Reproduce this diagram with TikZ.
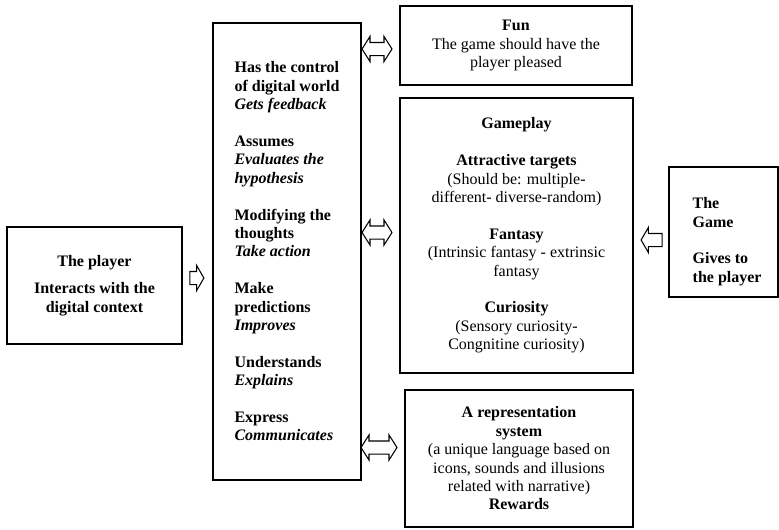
\documentclass[tikz,border=0pt]{standalone}
\usepackage{fontspec}
\setmainfont{Liberation Serif}
\usepackage{tikz}
\usetikzlibrary{shapes.arrows}

\begin{document}
\begin{tikzpicture}[x=0.75pt, y=-0.75pt,
        box/.style={draw, line width=1pt, align=center, inner sep=3pt, font=\fontsize{12pt}{13.8pt}\selectfont},
        rarrow/.style={draw, single arrow, line width=0.8pt, inner sep=0pt, inner ysep=4.5pt, minimum width=18pt, single arrow head extend=4.5pt, single arrow tip angle=120},
        darrow/.style={draw, double arrow, line width=0.8pt, inner sep=0pt, inner ysep=4.5pt, minimum width=18pt, double arrow head extend=4.5pt, double arrow tip angle=115}]
        \useasboundingbox (0,0) rectangle (779,529);
        % boxes
        \node[box, minimum width=131.25pt, minimum height=87.75pt] (player) at (94.5,285.5) {\textbf{The player}\\[7pt]\textbf{Interacts with the}\\\textbf{digital context}};
        \node[box, align=left, minimum width=111pt, minimum height=342.75pt, font=\bfseries\fontsize{12pt}{13.8pt}\selectfont] (mind) at (287,251.5) {Has the control\\of digital world\\\textit{Gets feedback}\\[13.8pt]Assumes\\\textit{Evaluates the}\\\textit{hypothesis}\\[13.8pt]Modifying the\\thoughts\\\textit{Take action}\\[13.8pt]Make\\predictions\\\textit{Improves}\\[13.8pt]Understands\\\textit{Explains}\\[13.8pt]Express\\\textit{Communicates}};
        \node[box, minimum width=174pt, minimum height=59.25pt] (fun) at (516,45.5) {\textbf{Fun}\\The game should have the\\player pleased};
        \node[box, minimum width=174.75pt, minimum height=206.25pt] (gameplay) at (516.5,235.5) {\textbf{Gameplay}\\[13.8pt]\textbf{Attractive targets}\\(Should be: multiple-\\different- diverse-random)\\[13.8pt]\textbf{Fantasy}\\(Intrinsic fantasy - extrinsic\\fantasy\\[13.8pt]\textbf{Curiosity}\\(Sensory curiosity-\\Congnitine curiosity)};
        \node[box, minimum width=171pt, minimum height=102.75pt] (repr) at (519,458.5) {\textbf{A representation}\\\textbf{system}\\(a unique language based on\\icons, sounds and illusions\\related with narrative)\\\textbf{Rewards}};
        \node[box, minimum width=81.75pt, minimum height=97.5pt] (game) at (723.5,232) {};
        \node[box, align=left, anchor=north west, inner sep=0pt, draw=none, font=\bfseries\fontsize{12pt}{13.8pt}\selectfont] (gametext) at (692,197) {The\\Game\\[13.8pt]Gives to\\the player};
        % block arrows
        \node[rarrow, minimum height=10.5pt] (arrplayer) at (195,278) {};
        \node[rarrow, minimum height=15.75pt, shape border rotate=180] (arrgame) at (653.5,240) {};
        \node[darrow, minimum height=22.5pt] (arrfun) at (377,49) {};
        \node[darrow, minimum height=22.5pt] (arrplay) at (377,232.5) {};
        \node[darrow, minimum height=27pt] (arrrepr) at (379,447.5) {};
    \end{tikzpicture}
\end{document}
